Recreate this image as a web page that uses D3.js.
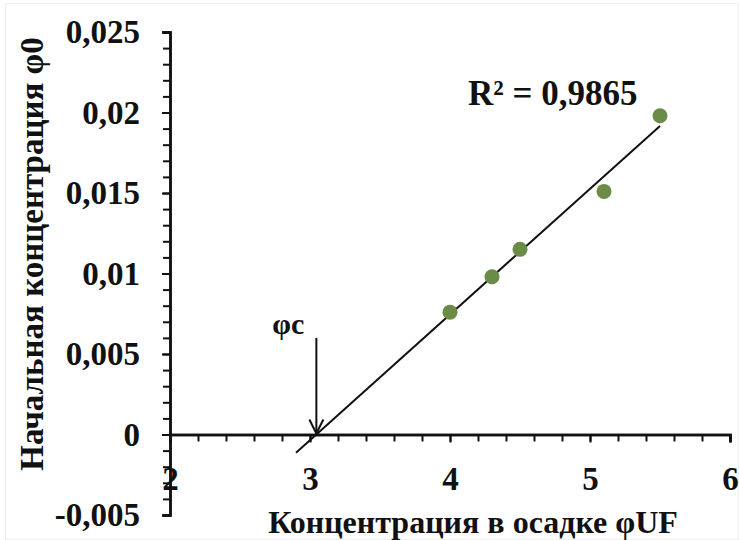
<!DOCTYPE html>
<html>
<head>
<meta charset="utf-8">
<script src="https://cdn.jsdelivr.net/npm/d3@7"></script>
<style>
  html, body { margin: 0; padding: 0; background: #fff; }
  svg { display: block; }
  .serif { font-family: "Liberation Serif", "Times New Roman", "DejaVu Serif", serif; font-weight: bold; fill: #111; }
</style>
</head>
<body>
<svg id="chart" width="739" height="540"></svg>
<script>
// Measured sediment concentration (x) vs initial concentration (y)
const xValues = [4.0, 4.3, 4.5, 5.1, 5.5];
const yValues = [0.0076, 0.0098, 0.0115, 0.0151, 0.0198];

const xTicks = [2, 3, 4, 5, 6];
const yTicks = [-0.005, 0, 0.005, 0.01, 0.015, 0.02, 0.025];
const xMinorStep = 0.2;
const yMinorStep = 0.001;

const trendFrom = 2.9;     // backward extension of the linear trend
const arrowTop = 0.006;    // where the φc arrow starts
const r2Label = "R² = 0,9865";
const xTitle = "Концентрация в осадке φUF";
const yTitle = "Начальная концентрация φ0";

const W = 739, H = 540;
const svg = d3.select("#chart");

// frame
svg.append("rect").attr("x", 5.5).attr("y", 3.5).attr("width", W - 6).attr("height", H - 4)
  .attr("fill", "none").attr("stroke", "#efefef").attr("stroke-width", 1);

const x = d3.scaleLinear().domain([2, 6]).range([170, 730]);
const y = d3.scaleLinear().domain([-0.005, 0.025]).range([515, 32]);

const fmt = d => String(d).replace(".", ",");

// minor ticks
const yMinor = d3.range(0, 31).map(i => +(-0.005 + i * yMinorStep).toFixed(4));
const xMinor = d3.range(0, 21).map(i => +(2 + i * xMinorStep).toFixed(2));

const gy = svg.append("g").attr("transform", `translate(${x(2)},0)`);
gy.call(d3.axisLeft(y).tickValues(yMinor).tickSize(7).tickFormat(""));
gy.append("g").call(d3.axisLeft(y).tickValues(yTicks).tickSize(8).tickPadding(22).tickFormat(fmt));

const gx = svg.append("g").attr("transform", `translate(0,${y(0)})`);
gx.call(d3.axisBottom(x).tickValues(xMinor).tickSize(7).tickFormat(""));
gx.append("g").call(d3.axisBottom(x).tickValues(xTicks).tickSize(8).tickPadding(24).tickFormat(fmt));

svg.selectAll(".domain").attr("stroke", "#111").attr("stroke-width", 2.5);
svg.selectAll(".tick line").attr("stroke", "#111").attr("stroke-width", 2);
svg.selectAll(".tick text").attr("class", "serif").style("font-size", "33px");

// least-squares trend line
const mx = d3.mean(xValues), my = d3.mean(yValues);
const sxy = d3.sum(xValues, (v, i) => (v - mx) * (yValues[i] - my));
const sxx = d3.sum(xValues, v => (v - mx) * (v - mx));
const slope = sxy / sxx;
const intercept = my - slope * mx;
const xEnd = d3.max(xValues);
const xCross = -intercept / slope;

svg.append("line")
  .attr("x1", x(trendFrom)).attr("y1", y(slope * trendFrom + intercept))
  .attr("x2", x(xEnd)).attr("y2", y(slope * xEnd + intercept))
  .attr("stroke", "#111").attr("stroke-width", 2);

// data points
svg.append("g").selectAll("circle").data(xValues).join("circle")
  .attr("cx", d => x(d)).attr("cy", (d, i) => y(yValues[i]))
  .attr("r", 7.5).attr("fill", "#6a8c47");

// φc arrow pointing at the x-intercept
const ax = x(xCross);
svg.append("line").attr("x1", ax).attr("y1", y(arrowTop)).attr("x2", ax).attr("y2", y(0) - 1)
  .attr("stroke", "#111").attr("stroke-width", 2);
svg.append("path")
  .attr("d", `M${ax - 7},${y(0) - 15} L${ax},${y(0) - 1} L${ax + 7},${y(0) - 15}`)
  .attr("fill", "none").attr("stroke", "#111").attr("stroke-width", 2);
svg.append("text").attr("class", "serif").attr("x", ax - 12).attr("y", y(arrowTop) - 4)
  .attr("text-anchor", "end").style("font-size", "30px").text("φc");

// R² annotation
svg.append("text").attr("class", "serif").attr("x", 468).attr("y", 105)
  .style("font-size", "35px").text(r2Label);

// axis titles
svg.append("text").attr("class", "serif").attr("x", 473).attr("y", 533)
  .attr("text-anchor", "middle").style("font-size", "32px").text(xTitle);
svg.append("text").attr("class", "serif")
  .attr("transform", "translate(43,254) rotate(-90)")
  .attr("text-anchor", "middle").style("font-size", "33px").text(yTitle);
</script>
</body>
</html>
